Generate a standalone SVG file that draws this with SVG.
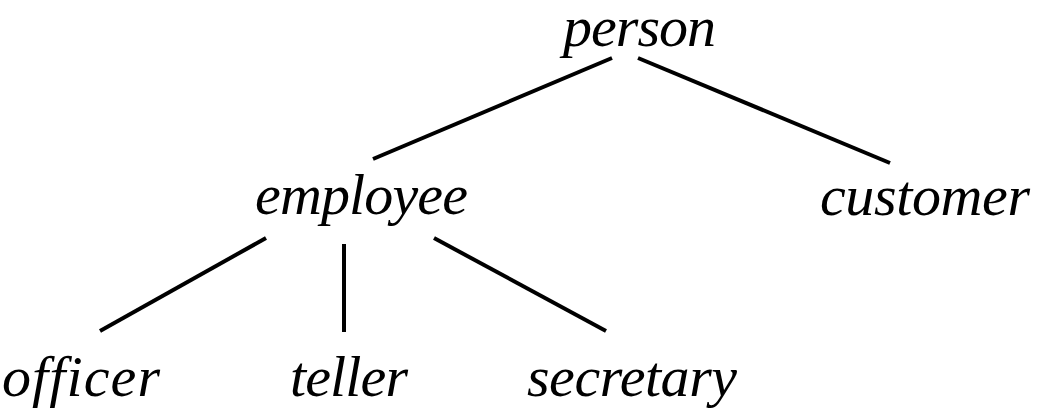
<svg xmlns="http://www.w3.org/2000/svg" width="1039" height="411" viewBox="0 0 1039 411">
<style>
.lbl{font-family:"Liberation Serif","Times New Roman",serif;font-style:italic;font-size:58px;fill:#000}
.edge{stroke:#000;stroke-width:4;stroke-linecap:butt;fill:none}
</style>
<rect width="1039" height="411" fill="#fff"/>
<g id="connectors">
<line class="edge" x1="612" y1="58" x2="373" y2="159"/>
<line class="edge" x1="638" y1="58" x2="890" y2="163"/>
<line class="edge" x1="266" y1="238" x2="100" y2="331"/>
<line class="edge" x1="344" y1="244" x2="344" y2="332"/>
<line class="edge" x1="434" y1="238" x2="606" y2="331"/>
</g>
<g id="person"><text class="lbl" x="563" y="46" textLength="153">person</text></g>
<g id="employee"><text class="lbl" x="255" y="214" textLength="213">employee</text></g>
<g id="customer"><text class="lbl" x="820" y="215" textLength="210">customer</text></g>
<g id="officer"><text class="lbl" x="2" y="396" textLength="158">officer</text></g>
<g id="teller"><text class="lbl" x="290" y="396" textLength="118">teller</text></g>
<g id="secretary"><text class="lbl" x="527" y="396" textLength="210">secretary</text></g>
</svg>
